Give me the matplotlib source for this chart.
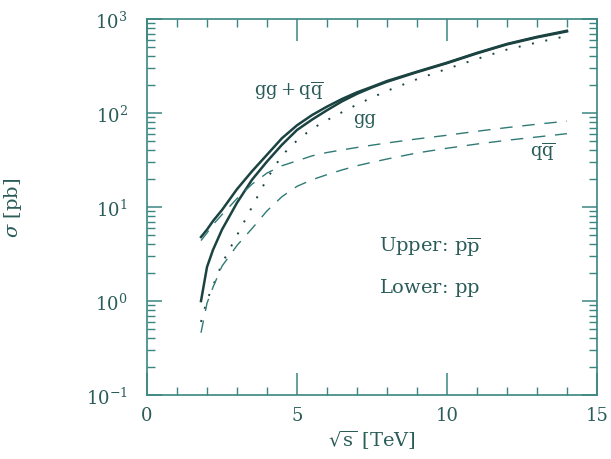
import matplotlib
matplotlib.use("Agg")
import matplotlib.pyplot as plt
from matplotlib.ticker import LogLocator, MultipleLocator, NullFormatter

# cross sections in pb
sqrt_s = [1.8, 2.0, 2.2, 2.5, 3.0, 3.5, 4.0, 4.5, 5.0, 5.5, 6.0, 6.5, 7.0,
          7.5, 8.0, 9.0, 10.0, 11.0, 12.0, 13.0, 14.0]

total_ppbar = [4.8, 5.75, 7.1, 9.3, 15.5, 24, 36, 54, 74, 95, 117, 141, 166,
               190, 219, 275, 343, 436, 543, 646, 750]
total_pp = [1.0, 2.3, 3.5, 5.75, 11.1, 19.5, 30.5, 46, 66, 85, 107, 133, 160,
            187, 215, 272, 339, 431, 537, 638, 738]
gg = [0.6, 1.02, 1.45, 2.5, 5.0, 10, 20, 35.5, 51, 68, 84, 102, 123,
      146, 172, 229, 295, 376, 473, 562, 660]
qqbar_ppbar = [4.4, 5.3, 6.5, 8.3, 12.3, 17.5, 23, 27.5, 31, 35, 38, 40.5, 43,
               45.5, 48, 53, 58, 64, 70, 76, 82]
qqbar_pp = [0.46, 0.95, 1.4, 2.35, 3.9, 5.9, 9.1, 12.9, 16.6, 19.5, 22.1, 24.8,
            27.5, 29.9, 32.4, 37.6, 42.2, 46.8, 51.3, 55.6, 60.3]

plt.rcParams["font.family"] = ["DejaVu Serif"]
plt.rcParams["mathtext.fontset"] = "dejavuserif"

txt_col = "#2a5c59"
frame_col = "#3a8681"
line_col = "#1b4341"

fig = plt.figure(figsize=(6.11, 4.60), dpi=100)
ax = fig.add_axes([0.2406, 0.139, 0.7364, 0.8175])

ax.plot(sqrt_s, total_ppbar, color=line_col, lw=1.8)
ax.plot(sqrt_s, total_pp, color=line_col, lw=1.8)
ax.plot(sqrt_s, gg, color=line_col, lw=1.4, dashes=(1, 6))
ax.plot(sqrt_s, qqbar_ppbar, color="#2f7a75", lw=1.0, dashes=(9, 7))
ax.plot(sqrt_s, qqbar_pp, color="#2f7a75", lw=1.0, dashes=(9, 7))

ax.set_yscale("log")
ax.set_xlim(0, 15)
ax.set_ylim(0.1, 1000)

ax.xaxis.set_major_locator(MultipleLocator(5))
ax.xaxis.set_minor_locator(MultipleLocator(1))
ax.yaxis.set_major_locator(LogLocator(base=10))
ax.yaxis.set_minor_locator(LogLocator(base=10, subs=range(2, 10)))
ax.yaxis.set_minor_formatter(NullFormatter())

for s in ax.spines.values():
    s.set_color(frame_col)
    s.set_linewidth(1.2)

ax.tick_params(which="both", direction="in", top=True, right=True,
               color=frame_col, labelcolor=txt_col, labelsize=13)
ax.tick_params(axis="y", which="major", length=11, width=1.1, pad=14)
ax.tick_params(axis="y", which="minor", length=6, width=1.0)
ax.tick_params(axis="x", which="major", length=16, width=1.1, pad=8)
ax.tick_params(axis="x", which="minor", length=6, width=1.0)

ax.set_xlabel(r"$\sqrt{\rm s}$ [TeV]", color=txt_col, fontsize=14, labelpad=3)
ax.set_ylabel(r"$\sigma$ [pb]", color=txt_col, fontsize=14)
ax.yaxis.set_label_coords(-0.273, 0.5)

ax.text(4.75, 176, r"$\mathrm{gg+q\overline{q}}$", color=txt_col,
        fontsize=13, ha="center", va="center")
ax.text(7.25, 88, "gg", color=txt_col, fontsize=13, ha="center", va="center")
ax.text(13.2, 40, r"$\mathrm{q\overline{q}}$", color=txt_col,
        fontsize=13, ha="center", va="center")
ax.text(7.75, 3.8, r"Upper: $\mathrm{p\overline{p}}$", color=txt_col,
        fontsize=14, ha="left", va="center")
ax.text(7.75, 1.41, r"Lower: $\mathrm{pp}$", color=txt_col,
        fontsize=14, ha="left", va="center")

fig.savefig("out.png", dpi=100)
